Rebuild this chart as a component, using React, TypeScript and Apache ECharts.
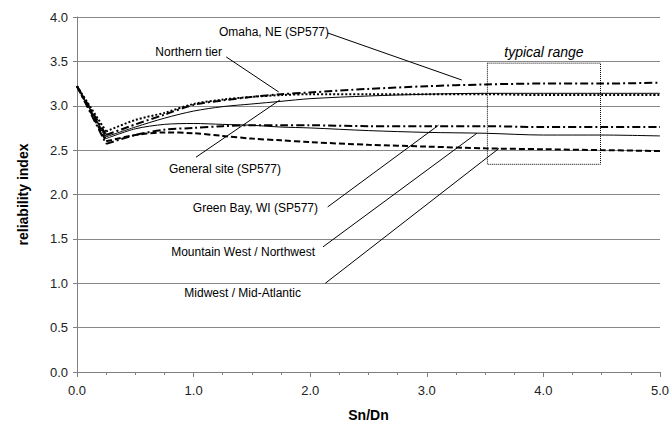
import React, { useEffect, useRef } from "react";
import * as echarts from "echarts";

const xValues = [0, 0.25, 0.5, 0.75, 1.0, 1.25, 1.5, 1.75, 2.0, 2.5, 3.0, 3.5, 4.0, 4.5, 5.0];

const omaha = [3.22, 2.67, 2.79, 2.9, 3.01, 3.06, 3.1, 3.13, 3.15, 3.19, 3.22, 3.24, 3.25, 3.25, 3.26];
const northernTier = [3.22, 2.71, 2.84, 2.92, 3.02, 3.07, 3.1, 3.12, 3.13, 3.13, 3.13, 3.13, 3.12, 3.12, 3.12];
const generalSite = [3.22, 2.65, 2.76, 2.86, 2.94, 2.99, 3.02, 3.05, 3.08, 3.11, 3.13, 3.14, 3.14, 3.14, 3.14];
const greenBay = [3.22, 2.57, 2.67, 2.73, 2.75, 2.77, 2.78, 2.78, 2.78, 2.77, 2.77, 2.77, 2.76, 2.76, 2.76];
const mountainWest = [3.22, 2.63, 2.74, 2.79, 2.8, 2.79, 2.78, 2.76, 2.75, 2.72, 2.7, 2.69, 2.67, 2.67, 2.66];
const midwest = [3.22, 2.6, 2.67, 2.7, 2.69, 2.66, 2.63, 2.61, 2.59, 2.56, 2.54, 2.52, 2.51, 2.5, 2.49];

// leader lines: [label, [x1, y1], [x2, y2]] in data units
const leaders: [string, [number, number], [number, number]][] = [
  ["Omaha, NE (SP577)", [2.15, 3.82], [3.3, 3.29]],
  ["Northern tier", [1.28, 3.55], [1.73, 3.155]],
  ["General site (SP577)", [1.02, 2.42], [1.74, 3.065]],
  ["Green Bay, WI (SP577)", [2.15, 1.86], [3.1, 2.78]],
  ["Mountain West / Northwest", [2.11, 1.41], [3.43, 2.69]],
  ["Midwest / Mid-Atlantic", [2.13, 1.0], [3.62, 2.52]],
];

const rangeBox = { x1: 3.52, x2: 4.49, y1: 3.48, y2: 2.34, label: "typical range" };

const FONT = "'Liberation Sans', Arial, sans-serif";

const pair = (ys: number[]) => xValues.map((x, i) => [x, ys[i]]);

export default function App() {
  const ref = useRef<HTMLDivElement>(null);
  useEffect(() => {
    if (!ref.current) return;
    const chart = echarts.init(ref.current, undefined, { renderer: "svg" });
    const lineStyle = (type: any, width: number) => ({ color: "#000", width, type, cap: "butt" });
    // each curve: a straight drop from x=0 to x=0.25, then a smoothed tail
    const curve = (name: string, ys: number[], type: any, width: number) => {
      const pts = pair(ys);
      return [
        {
          type: "line",
          name: name + " drop",
          data: pts.slice(0, 2),
          showSymbol: false,
          symbol: "none",
          silent: true,
          lineStyle: lineStyle(type, width),
        },
        {
          type: "line",
          name,
          data: pts.slice(1),
          smooth: 0.3,
          showSymbol: false,
          symbol: "none",
          silent: true,
          lineStyle: lineStyle(type, width),
        },
      ];
    };
    const dashDot = [8, 3, 2, 3];
    const omahaSeries = curve("Omaha, NE (SP577)", omaha, dashDot, 2);
    (omahaSeries[1] as any).markLine = {
      silent: true,
      symbol: ["none", "none"],
      label: { show: false },
      lineStyle: { color: "#000", width: 1, type: "solid" },
      emphasis: { disabled: true },
      data: leaders.map((l) => [{ coord: l[1] }, { coord: l[2] }]),
    };
    (omahaSeries[1] as any).markArea = {
      silent: true,
      itemStyle: { color: "rgba(0,0,0,0)", borderColor: "#000", borderWidth: 1, borderType: [1, 1] },
      label: {
        show: true,
        position: "top",
        distance: 4,
        fontStyle: "italic",
        fontSize: 14,
        fontFamily: FONT,
        color: "#000",
      },
      data: [[{ coord: [rangeBox.x1, rangeBox.y1], name: rangeBox.label }, { coord: [rangeBox.x2, rangeBox.y2] }]],
    };
    const series: any[] = [
      ...omahaSeries,
      ...curve("Northern tier", northernTier, [2, 2], 2),
      ...curve("General site (SP577)", generalSite, "solid", 1),
      ...curve("Green Bay, WI (SP577)", greenBay, dashDot, 2),
      ...curve("Mountain West / Northwest", mountainWest, "solid", 1),
      ...curve("Midwest / Mid-Atlantic", midwest, [6, 3], 2),
    ];
    const textPos: [number, number][] = [
      [329, 32],
      [222, 52],
      [281, 169],
      [318, 208],
      [315, 252],
      [301, 293],
    ];
    const graphics: any[] = leaders.map((l, i) => ({
      type: "text",
      x: textPos[i][0],
      y: textPos[i][1],
      style: {
        text: l[0],
        fill: "#000",
        font: `12px ${FONT}`,
        textAlign: "right",
        textVerticalAlign: "middle",
      },
    }));
    chart.setOption({
      animation: false,
      backgroundColor: "#fff",
      grid: { left: 77, right: 7, top: 17, bottom: 57, containLabel: false },
      xAxis: {
        type: "value",
        min: 0,
        max: 5,
        interval: 1,
        name: "Sn/Dn",
        nameLocation: "middle",
        nameGap: 36,
        nameTextStyle: { fontWeight: "bold", fontSize: 14, fontFamily: FONT, color: "#000" },
        axisLine: { show: true, lineStyle: { color: "#808080", width: 1 } },
        axisTick: { show: true, length: 5, lineStyle: { color: "#808080" } },
        minorTick: { show: true, splitNumber: 4, length: 3, lineStyle: { color: "#808080" } },
        splitLine: { show: false },
        axisLabel: {
          margin: 12,
          fontSize: 13,
          fontFamily: FONT,
          color: "#222",
          formatter: (v: number) => v.toFixed(1),
        },
      },
      yAxis: {
        type: "value",
        min: 0,
        max: 4,
        interval: 0.5,
        name: "reliability index",
        nameLocation: "middle",
        nameGap: 47,
        nameTextStyle: { fontWeight: "bold", fontSize: 14, fontFamily: FONT, color: "#000" },
        axisLine: { show: true, lineStyle: { color: "#808080", width: 1 } },
        axisTick: { show: true, length: 4, lineStyle: { color: "#808080" } },
        splitLine: { show: true, lineStyle: { color: "#888", width: 1 } },
        axisLabel: {
          margin: 9,
          fontSize: 13,
          fontFamily: FONT,
          color: "#222",
          formatter: (v: number) => v.toFixed(1),
        },
      },
      series,
      graphic: graphics,
    });
    return () => chart.dispose();
  }, []);
  return <div ref={ref} style={{ width: 672, height: 429, position: "absolute", left: 0, top: 0 }} />;
}
